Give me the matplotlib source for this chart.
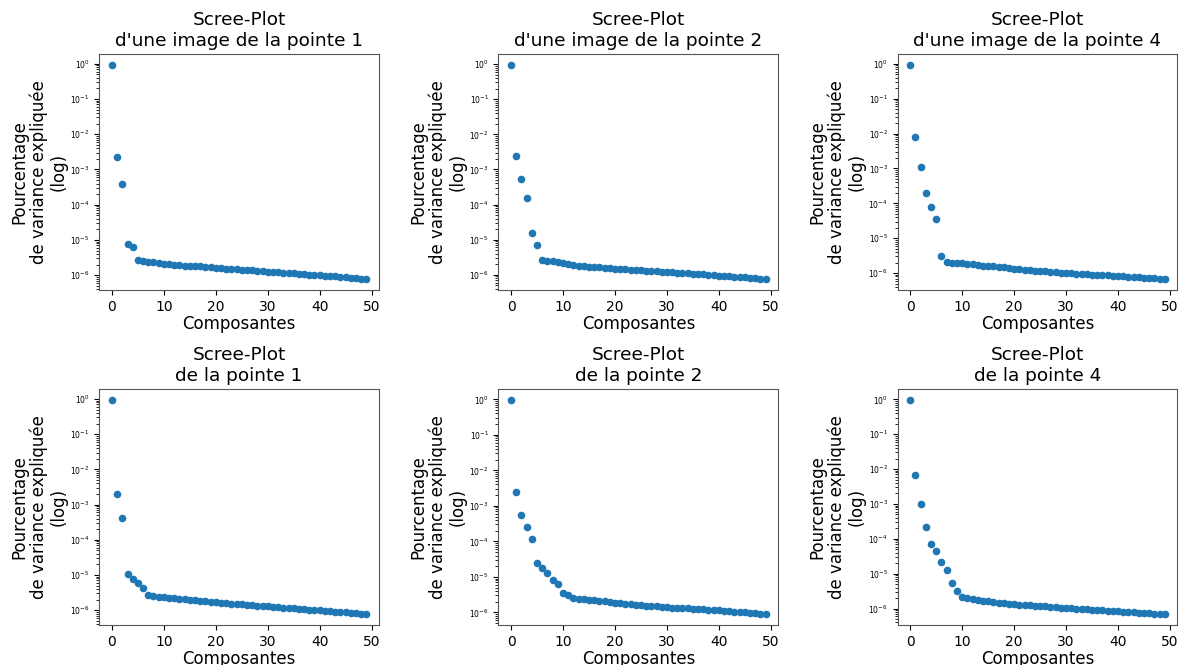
import numpy as np
import matplotlib
matplotlib.use("Agg")
import matplotlib.pyplot as plt

# explained variance ratio, first 50 components
COMPONENTS = np.arange(50)

IMG_POINTE_1 = [
    0.95, 2.3e-3, 4.0e-4, 7.9e-6, 6.5e-6, 2.65e-6, 2.5e-6, 2.4e-6, 2.3e-6, 2.2e-6,
    2.1e-6, 2.02e-6, 1.97e-6, 1.92e-6, 1.88e-6, 1.84e-6, 1.8e-6, 1.77e-6, 1.72e-6, 1.66e-6,
    1.6e-6, 1.57e-6, 1.53e-6, 1.5e-6, 1.46e-6, 1.42e-6, 1.39e-6, 1.36e-6, 1.33e-6, 1.3e-6,
    1.26e-6, 1.23e-6, 1.2e-6, 1.17e-6, 1.14e-6, 1.12e-6, 1.09e-6, 1.06e-6, 1.04e-6, 1.01e-6,
    0.99e-6, 0.97e-6, 0.95e-6, 0.92e-6, 0.9e-6, 0.87e-6, 0.85e-6, 0.83e-6, 0.8e-6, 0.77e-6,
]
IMG_POINTE_2 = [
    0.97, 2.45e-3, 5.3e-4, 1.55e-4, 1.55e-5, 7.2e-6, 2.6e-6, 2.55e-6, 2.45e-6, 2.35e-6,
    2.2e-6, 2.05e-6, 1.85e-6, 1.8e-6, 1.76e-6, 1.72e-6, 1.68e-6, 1.63e-6, 1.58e-6, 1.53e-6,
    1.48e-6, 1.46e-6, 1.44e-6, 1.41e-6, 1.38e-6, 1.35e-6, 1.32e-6, 1.3e-6, 1.27e-6, 1.24e-6,
    1.21e-6, 1.18e-6, 1.15e-6, 1.12e-6, 1.1e-6, 1.08e-6, 1.05e-6, 1.02e-6, 0.99e-6, 0.97e-6,
    0.95e-6, 0.93e-6, 0.91e-6, 0.89e-6, 0.87e-6, 0.84e-6, 0.82e-6, 0.8e-6, 0.78e-6, 0.75e-6,
]
IMG_POINTE_4 = [
    0.95, 8.0e-3, 1.1e-3, 2.0e-4, 8.1e-5, 3.6e-5, 3.1e-6, 2.15e-6, 2.0e-6, 1.95e-6,
    1.9e-6, 1.85e-6, 1.78e-6, 1.7e-6, 1.64e-6, 1.6e-6, 1.55e-6, 1.5e-6, 1.45e-6, 1.38e-6,
    1.33e-6, 1.3e-6, 1.26e-6, 1.22e-6, 1.18e-6, 1.15e-6, 1.13e-6, 1.1e-6, 1.07e-6, 1.04e-6,
    1.01e-6, 0.99e-6, 0.97e-6, 0.95e-6, 0.93e-6, 0.91e-6, 0.89e-6, 0.88e-6, 0.86e-6, 0.84e-6,
    0.82e-6, 0.8e-6, 0.78e-6, 0.77e-6, 0.76e-6, 0.74e-6, 0.72e-6, 0.71e-6, 0.7e-6, 0.67e-6,
]
POINTE_1 = [
    0.95, 2.0e-3, 4.1e-4, 1.1e-5, 7.7e-6, 5.8e-6, 4.3e-6, 2.75e-6, 2.45e-6, 2.35e-6,
    2.3e-6, 2.22e-6, 2.15e-6, 2.08e-6, 2.02e-6, 1.97e-6, 1.9e-6, 1.84e-6, 1.78e-6, 1.72e-6,
    1.66e-6, 1.62e-6, 1.58e-6, 1.54e-6, 1.5e-6, 1.46e-6, 1.42e-6, 1.38e-6, 1.35e-6, 1.32e-6,
    1.28e-6, 1.25e-6, 1.22e-6, 1.19e-6, 1.16e-6, 1.13e-6, 1.1e-6, 1.07e-6, 1.04e-6, 1.01e-6,
    0.99e-6, 0.96e-6, 0.94e-6, 0.91e-6, 0.89e-6, 0.86e-6, 0.84e-6, 0.82e-6, 0.79e-6, 0.76e-6,
]
POINTE_2 = [
    0.97, 2.4e-3, 5.7e-4, 2.5e-4, 1.18e-4, 2.5e-5, 1.8e-5, 1.3e-5, 8.1e-6, 6.5e-6,
    3.6e-6, 3.15e-6, 2.6e-6, 2.4e-6, 2.35e-6, 2.28e-6, 2.2e-6, 2.12e-6, 2.05e-6, 1.95e-6,
    1.85e-6, 1.8e-6, 1.75e-6, 1.7e-6, 1.65e-6, 1.6e-6, 1.56e-6, 1.52e-6, 1.48e-6, 1.44e-6,
    1.4e-6, 1.37e-6, 1.35e-6, 1.33e-6, 1.3e-6, 1.27e-6, 1.24e-6, 1.22e-6, 1.2e-6, 1.18e-6,
    1.15e-6, 1.12e-6, 1.09e-6, 1.06e-6, 1.03e-6, 1.0e-6, 0.97e-6, 0.94e-6, 0.91e-6, 0.88e-6,
]
POINTE_4 = [
    0.97, 6.7e-3, 1.0e-3, 2.2e-4, 6.9e-5, 4.5e-5, 2.2e-5, 1.3e-5, 5.3e-6, 3.1e-6,
    2.2e-6, 2.0e-6, 1.88e-6, 1.75e-6, 1.68e-6, 1.6e-6, 1.53e-6, 1.48e-6, 1.43e-6, 1.38e-6,
    1.33e-6, 1.3e-6, 1.27e-6, 1.24e-6, 1.21e-6, 1.18e-6, 1.15e-6, 1.12e-6, 1.09e-6, 1.06e-6,
    1.03e-6, 1.01e-6, 0.99e-6, 0.97e-6, 0.95e-6, 0.93e-6, 0.91e-6, 0.89e-6, 0.87e-6, 0.85e-6,
    0.83e-6, 0.81e-6, 0.79e-6, 0.78e-6, 0.76e-6, 0.75e-6, 0.73e-6, 0.71e-6, 0.7e-6, 0.68e-6,
]

TITLES = [
    "Scree-Plot\nd'une image de la pointe 1",
    "Scree-Plot\nd'une image de la pointe 2",
    "Scree-Plot\nd'une image de la pointe 4",
    "Scree-Plot\nde la pointe 1",
    "Scree-Plot\nde la pointe 2",
    "Scree-Plot\nde la pointe 4",
]
SERIES = [IMG_POINTE_1, IMG_POINTE_2, IMG_POINTE_4, POINTE_1, POINTE_2, POINTE_4]

YLABEL = "Pourcentage\nde variance expliquée\n(log)"
XLABEL = "Composantes"


def main() -> None:
    fig, axes = plt.subplots(2, 3, figsize=(11.81, 6.65), dpi=100)
    fig.subplots_adjust(left=0.084, right=0.997, bottom=0.060, top=0.919,
                        wspace=0.426, hspace=0.42)

    for ax, title, vals in zip(axes.flat, TITLES, SERIES):
        ax.scatter(COMPONENTS, vals, s=20, color="#1f77b4")
        ax.set_yscale("log")
        ax.set_title(title, fontsize=13.3)
        ax.set_xlabel(XLABEL, fontsize=12, labelpad=1)
        ax.set_ylabel(YLABEL, fontsize=12, linespacing=1.1, labelpad=2)
        ax.tick_params(axis="x", labelsize=10)
        ax.tick_params(axis="y", which="both", labelsize=5.5)
        for sp in ax.spines.values():
            sp.set_color("#555555")

    fig.savefig("out.png", dpi=100)
    plt.close(fig)


if __name__ == "__main__":
    main()
